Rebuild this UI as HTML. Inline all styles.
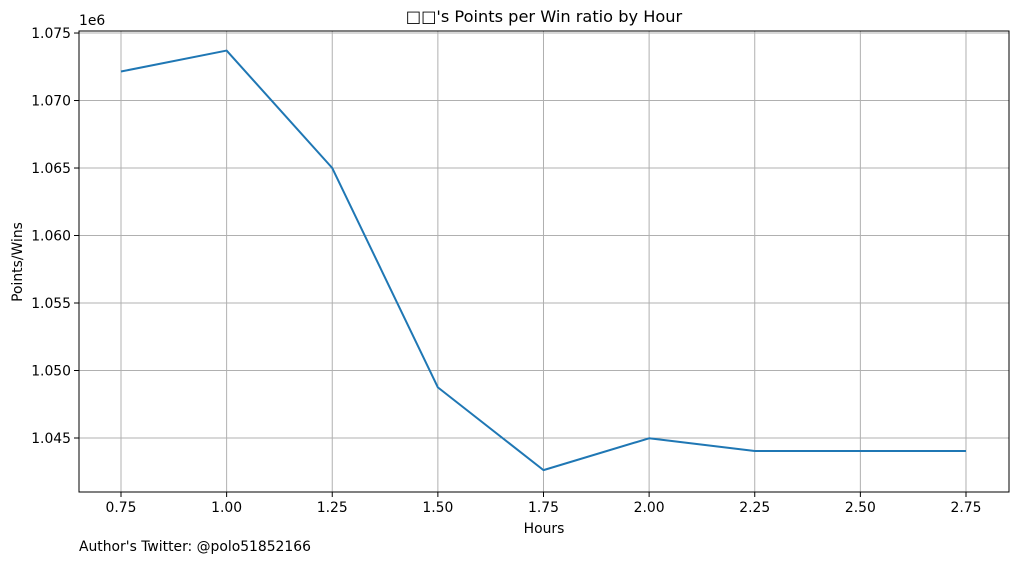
<!DOCTYPE html>
<html><head><meta charset="utf-8"><style>
body{margin:0;background:#fff;}
svg text{font-family:"DejaVu Sans","Liberation Sans","Noto Sans CJK SC",sans-serif;fill:#000;}
</style></head><body>
<svg id="chart" width="1019" height="562" xmlns="http://www.w3.org/2000/svg">
<rect width="1019" height="562" fill="#fff"/>
<text x="544" y="22" font-size="16.2" text-anchor="middle">□□'s Points per Win ratio by Hour</text>
<g id="grid"></g><g id="ticks"></g>
<path id="line" fill="none" stroke="#1f77b4" stroke-width="2" stroke-linejoin="round"/>
<rect x="79" y="31" width="930" height="461" fill="none" stroke="#000" stroke-width="1"/>
<text x="79" y="25" font-size="13.9">1e6</text>
<text x="544" y="533" font-size="13.9" text-anchor="middle">Hours</text>
<text transform="translate(22,262) rotate(-90)" font-size="13.9" text-anchor="middle">Points/Wins</text>
<text x="79" y="551" font-size="13.9">Author's Twitter: @polo51852166</text>
</svg>
<script>
const hours=[0.75,1.0,1.25,1.5,1.75,2.0,2.25,2.5,2.75];
const ratios=[1.07215,1.0737,1.0650,1.04875,1.04262,1.04498,1.04404,1.04404,1.04404];
const xTicks=[0.75,1.0,1.25,1.5,1.75,2.0,2.25,2.5,2.75];
const yTicks=[1.045,1.050,1.055,1.060,1.065,1.070,1.075];
const L=79,R=1009,T=31,B=492;
const x0=0.6506,x1=2.8518,y0=1.0410,y1=1.07515;
const sx=v=>L+(v-x0)/(x1-x0)*(R-L);
const sy=v=>B-(v-y0)/(y1-y0)*(B-T);
const NS="http://www.w3.org/2000/svg";
const grid=document.getElementById('grid'),ticks=document.getElementById('ticks');
function mk(tag,attrs,parent){const e=document.createElementNS(NS,tag);for(const k in attrs)e.setAttribute(k,attrs[k]);parent.appendChild(e);return e;}
xTicks.forEach(v=>{const x=sx(v);
const g=mk('line',{x1:x,x2:x,y1:T,y2:B,stroke:'#b0b0b0','stroke-width':1},grid);


mk('line',{x1:x,x2:x,y1:B,y2:B+5,stroke:'#000'},ticks);
const t=mk('text',{x:x,y:B+20,'font-size':13.9,'text-anchor':'middle'},ticks);t.textContent=v.toFixed(2);

});
yTicks.forEach(v=>{const y=sy(v);
const g=mk('line',{x1:L,x2:R,y1:y,y2:y,stroke:'#b0b0b0','stroke-width':1},grid);


mk('line',{x1:L-5,x2:L,y1:y,y2:y,stroke:'#000'},ticks);
const t=mk('text',{x:L-8,y:y+5,'font-size':13.9,'text-anchor':'end'},ticks);t.textContent=v.toFixed(3);

});
document.getElementById('line').setAttribute('d',hours.map((h,i)=>(i?'L':'M')+sx(h)+','+sy(ratios[i])).join(''));
</script>
</body></html>
